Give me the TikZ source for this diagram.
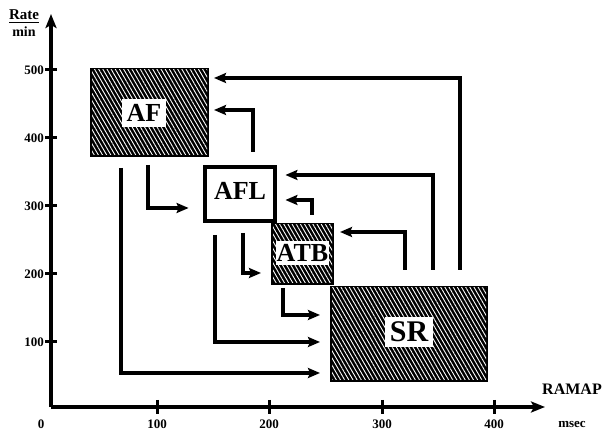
\documentclass[tikz,border=0pt]{standalone}
\usepackage{fontspec}
\setmainfont{Liberation Serif}
\usetikzlibrary{arrows.meta,patterns.meta}
\tikzset{
  hatched/.style={draw=black,line width=2pt,inner sep=0pt,fill=black,
    postaction={pattern={Lines[angle=-60,distance=1.8pt,line width=0.45pt]},pattern color=white}},
  plainbox/.style={draw=black,line width=2.4pt,inner sep=0pt,fill=white},
  tag/.style={fill=white,inner sep=1.5pt,font=\fontsize{13}{13}\selectfont\bfseries},
  axis/.style={line width=2pt,-{Stealth[length=7pt,width=5.5pt,inset=1.5pt]}},
  flow/.style={line width=1.9pt,shorten >=4pt,-{Stealth[length=6pt,width=5pt,inset=1pt]}},
  ticklab/.style={font=\fontsize{6.5}{6.5}\selectfont\bfseries,inner sep=0pt},
  axlab/.style={font=\fontsize{8}{8}\selectfont\bfseries,inner sep=0pt}
}
\begin{document}
\begin{tikzpicture}[x=0.5pt,y=-0.5pt]
\useasboundingbox (0,0) rectangle (603,431);
\coordinate (origin) at (51,407);
\coordinate (ytop) at (51,14);
\coordinate (xend) at (545,407);
\draw[axis] (origin) -- (ytop);
\draw[axis] (origin) -- (xend);
\draw[line width=1.5pt] (45,70) -- (57,70) (45,138) -- (57,138) (45,206) -- (57,206) (45,274) -- (57,274) (45,342) -- (57,342);
\draw[line width=1.5pt] (157,400) -- (157,414) (269,400) -- (269,414) (382,400) -- (382,414) (494,400) -- (494,414);
\node[ticklab] (y500) at (34,70) {500};
\node[ticklab] (y400) at (34,138) {400};
\node[ticklab] (y300) at (34,206) {300};
\node[ticklab] (y200) at (34,274) {200};
\node[ticklab] (y100) at (34,342) {100};
\node[ticklab] (x0) at (41,424) {0};
\node[ticklab] (x100) at (157,424) {100};
\node[ticklab] (x200) at (269,424) {200};
\node[ticklab] (x300) at (382,424) {300};
\node[ticklab] (x400) at (494,424) {400};
\node[ticklab] (msec) at (572,424) {msec};
\node[axlab] (ramap) at (572,389) {RAMAP};
\node[font=\fontsize{7.5}{7.5}\selectfont\bfseries,inner sep=0pt] (rate) at (24,17) {\underline{Rate}};
\node[ticklab,font=\fontsize{7}{7}\selectfont\bfseries] (min) at (24,32) {min};

\node[hatched,minimum width=57.5pt,minimum height=42.5pt] (af) at (149.5,112.5) {};
\node[plainbox,minimum width=35pt,minimum height=27pt] (afl) at (240,194) {};
\node[hatched,minimum width=29.5pt,minimum height=29pt] (atb) at (302.5,254) {};
\node[hatched,minimum width=77pt,minimum height=46pt] (sr) at (409,334) {};
\node[tag,inner sep=2.5pt] (aftag) at (144,113) {AF};
\node[tag,inner sep=0.5pt] (afltag) at (240,191) {AFL};
\node[tag,inner sep=0.5pt,minimum width=26.5pt,minimum height=12pt] (atbtag) at (302.5,253) {ATB};
\node[tag,inner sep=2.5pt,font=\fontsize{15}{15}\selectfont\bfseries] (srtag) at (409,332) {SR};

\coordinate (sr2af) at (460,270);
\coordinate (sr2afl) at (433,270);
\coordinate (sr2atb) at (405,270);
\coordinate (afl2af) at (253,152);
\coordinate (atb2afl) at (312,215);
\coordinate (af2afl) at (148,165);
\coordinate (afl2atb) at (243,233);
\coordinate (atb2sr) at (283,288);
\coordinate (afl2sr) at (215,235);
\coordinate (af2sr) at (121,168);
\draw[flow,shorten >=2.5pt] (sr2af) |- ([yshift=17.25pt]af.east);
\draw[flow] (sr2afl) |- ([yshift=9.5pt]afl.east);
\draw[flow,shorten >=3pt] (sr2atb) |- ([yshift=11pt]atb.east);
\draw[flow,shorten >=2.5pt] (afl2af) |- ([yshift=1.25pt]af.east);
\draw[flow] (atb2afl) |- ([yshift=-3pt]afl.east);
\draw[flow,shorten >=7pt] (af2afl) |- ([yshift=-7pt]afl.west);
\draw[flow,shorten >=5pt] (afl2atb) |- ([yshift=-9.5pt]atb.west);
\draw[flow,shorten >=5pt] (atb2sr) |- ([yshift=9.5pt]sr.west);
\draw[flow,shorten >=5pt] (afl2sr) |- ([yshift=-4pt]sr.west);
\draw[flow,shorten >=5pt] (af2sr) |- ([yshift=-19.5pt]sr.west);
\end{tikzpicture}
\end{document}
